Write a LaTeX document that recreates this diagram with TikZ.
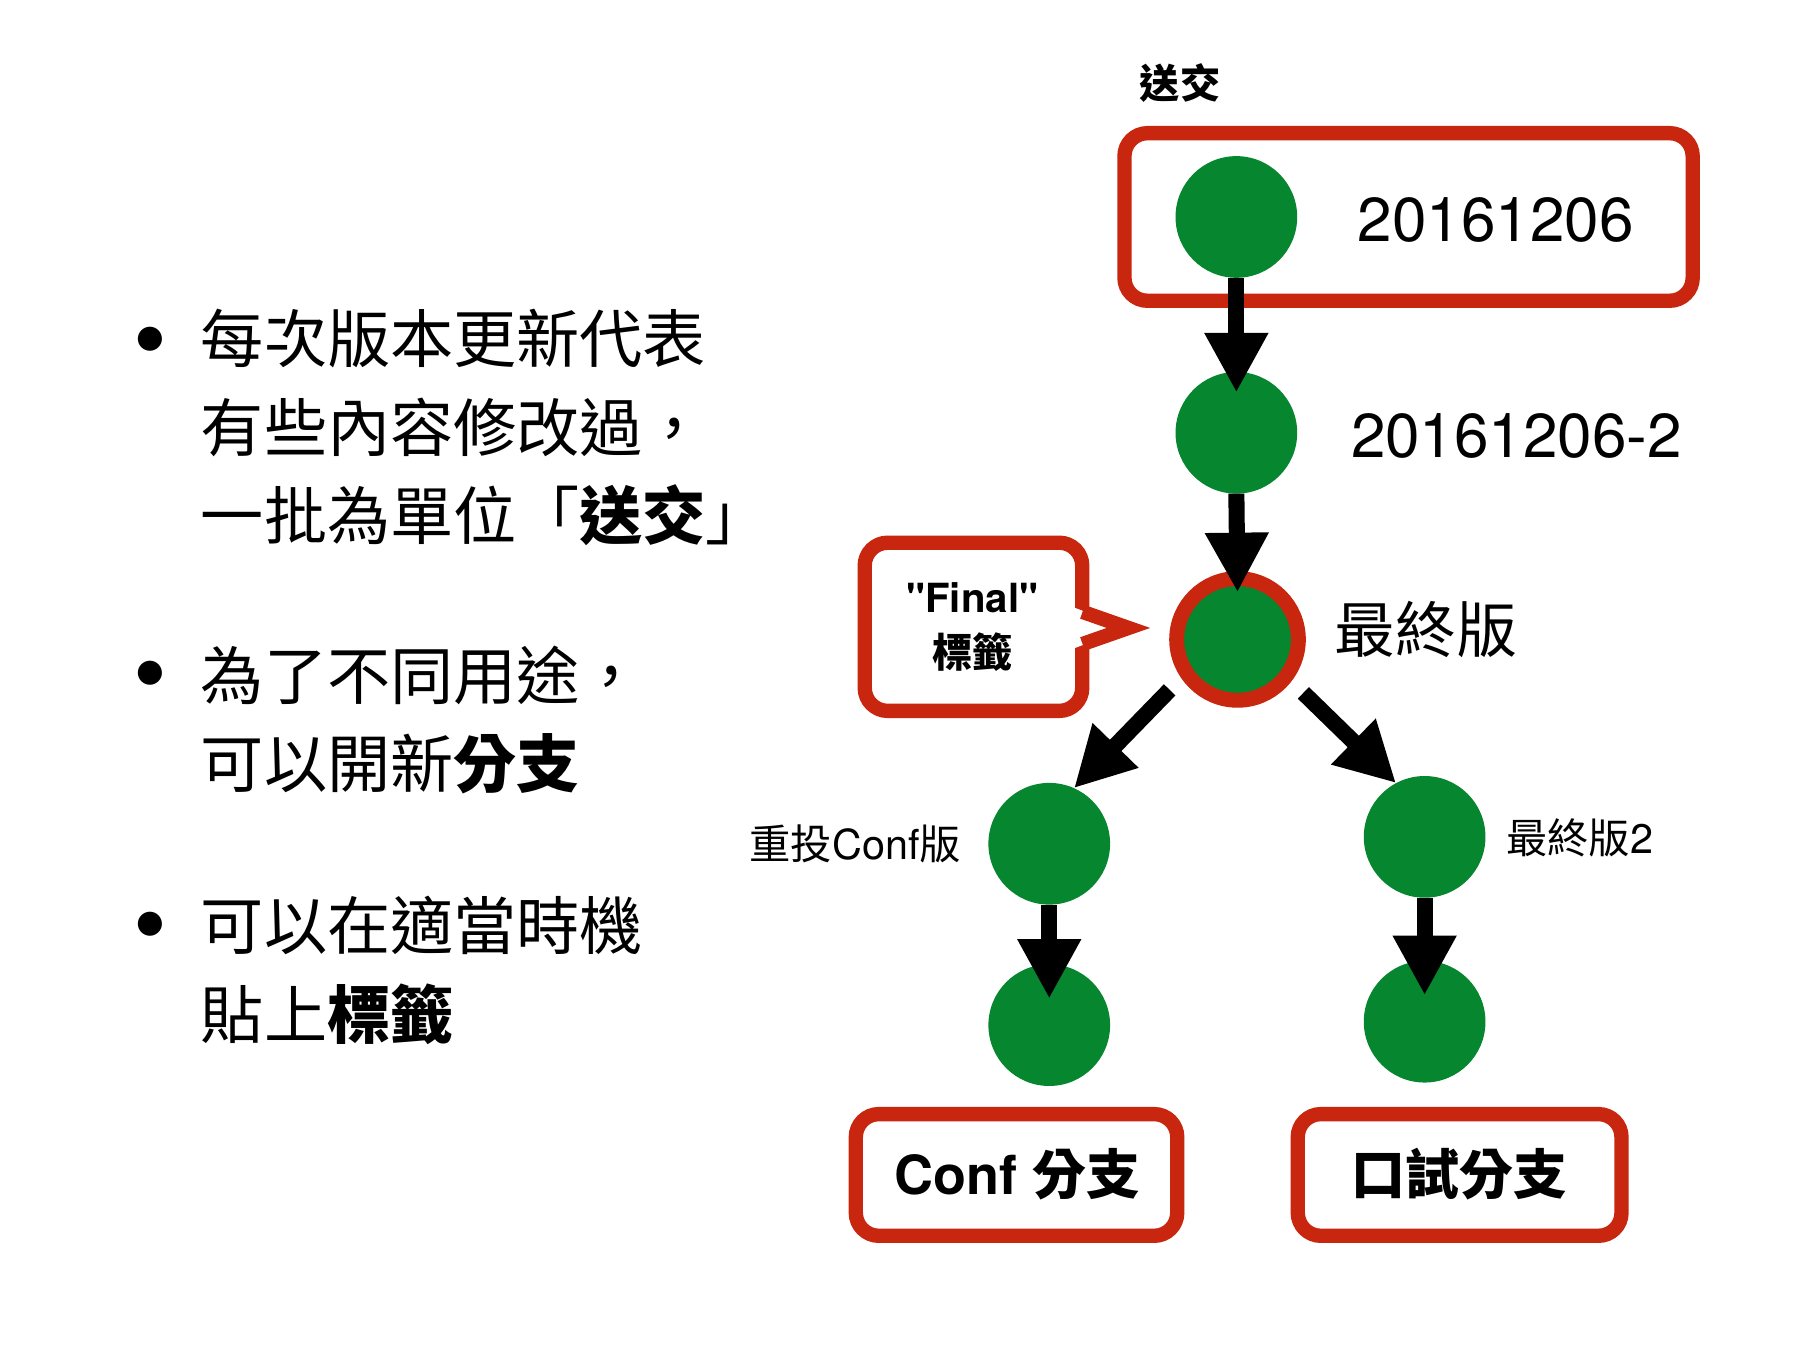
\documentclass[tikz,border=0pt]{standalone}
\usepackage{fontspec}
\setmainfont{TeX Gyre Heros}
\newfontfamily\lat{TeX Gyre Heros}
\newfontfamily\cjk{Noto Sans CJK TC}
\usetikzlibrary{arrows.meta}
\definecolor{gitgreen}{RGB}{6,134,46}
\definecolor{gitred}{RGB}{200,38,14}
\newcommand\fsz[1]{\fontsize{#1}{#1}\selectfont}
\tikzset{
  commit/.style={circle, fill=gitgreen, minimum size=106pt, inner sep=0pt, outer sep=0pt},
  tagged/.style={commit, draw=gitred, line width=13pt},
  redbox/.style={draw=gitred, line width=12.5pt, rounded corners=20pt, fill=white, inner sep=0pt, outer sep=0pt},
  arr/.style={line width=14pt, -{Triangle[width=52pt,length=52pt]}},
  txt/.style={inner sep=0pt, outer sep=0pt},
  body/.style={txt, anchor=west, font=\cjk\fsz{55}},
  bul/.style={txt, font=\lat\fsz{84}},
}
\begin{document}
\begin{tikzpicture}[x=1pt,y=-1pt]
\useasboundingbox[fill=white] (0,0) rectangle (1568,1176);

% left bullet text
\node[bul] (bu1) at (131,305) {•};
\node[body] (l1a) at (175,295) {每次版本更新代表};
\node[body] (l1b) at (175,372) {有些內容修改過，};
\node[body] (l1c) at (175,448.5) {一批為單位「{\bfseries 送交}」};
\node[bul] (bu2) at (131,596) {•};
\node[body] (l2a) at (175,588) {為了不同用途，};
\node[body] (l2b) at (175,665.5) {可以開新{\bfseries 分支}};
\node[bul] (bu3) at (131,814) {•};
\node[body] (l3a) at (175,806) {可以在適當時機};
\node[body] (l3b) at (175,883.5) {貼上{\bfseries 標籤}};

% top label and box
\node[txt, font=\cjk\bfseries\fsz{35}] (songjiao) at (1028,72) {送交};
\node[redbox, minimum width=495pt, minimum height=146pt] (topbox) at (1227,189) {};

% commits
\node[commit] (c1) at (1077,189) {};
\node[commit] (c2) at (1077,377) {};
\node[tagged] (fin) at (1078,557) {};
\node[commit] (cl1) at (914,735) {};
\node[commit] (cr1) at (1241,729) {};
\node[commit] (cl2) at (914,893) {};
\node[commit] (cr2) at (1241,890) {};

% commit labels
\node[txt, font=\lat\fsz{54}] (t1) at (1303,192) {20161206};
\node[txt, font=\lat\fsz{54}] (t2) at (1321,380) {20161206-2};
\node[txt, font=\cjk\fsz{53}] (t3) at (1242,548) {最終版};
\node[txt, font=\fsz{36}] (t4) at (745,735) {{\cjk 重投}{\lat Conf}{\cjk 版}};
\node[txt, font=\fsz{36}] (t5) at (1376,730) {{\cjk 最終版}{\lat 2}};

% callout
\node[redbox, minimum width=189.5pt, minimum height=146.5pt] (tagbox) at (848,546) {};
\fill[white] (935,529) -- (983,547) -- (935,565) -- cycle;
\draw[gitred, line width=12.5pt, line join=miter] (943,533) -- (983,547) -- (943,561);
\node[txt, font=\lat\bfseries\fsz{35}] (tfinal) at (847,521) {"Final"};
\node[txt, font=\cjk\bfseries\fsz{35}] (ttag) at (847,568) {標籤};

% branch boxes
\node[redbox, minimum width=280pt, minimum height=106pt] (bl) at (885.5,1023.5) {};
\node[txt, font=\bfseries\fsz{47}] (tbl) at (886,1023) {{\lat Conf} {\cjk 分支}};
\node[redbox, minimum width=282pt, minimum height=106pt] (br) at (1271.5,1023.5) {};
\node[txt, font=\cjk\bfseries\fsz{47}] (tbr) at (1271,1023) {口試分支};

% arrows
\draw[arr] (c1.south) -- ([yshift=-18pt]c2.north);
\draw[arr] (c2.south) -- ([yshift=-12pt]fin.north);
\draw[arr, shorten <=21pt] (fin.213) -- (cl1.66);
\draw[arr, shorten <=21pt] (fin.-37) -- (cr1.118);
\draw[arr] (cl1.south) -- ([yshift=-30pt]cl2.north);
\draw[arr] (cr1.south) -- ([yshift=-30pt]cr2.north);
\end{tikzpicture}
\end{document}
